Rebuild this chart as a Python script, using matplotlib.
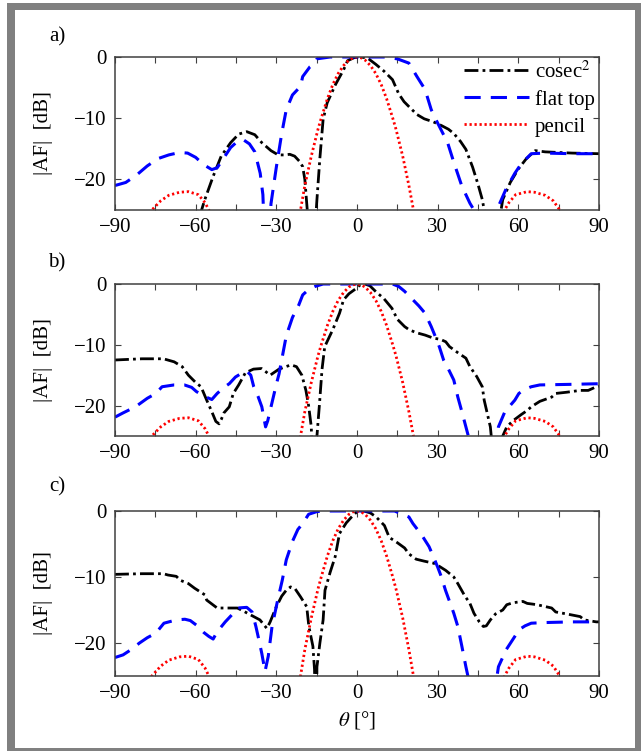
import matplotlib
matplotlib.use('Agg')
import matplotlib.pyplot as plt
from matplotlib.patches import Rectangle
from matplotlib.ticker import MultipleLocator

plt.rcParams['font.family'] = ['Liberation Serif', 'DejaVu Serif']
plt.rcParams['mathtext.fontset'] = 'stix'

# pencil beam (same in every case)
theta_pencil = [-90, -80, -77, -76.3, -73, -70, -66, -62.7, -59, -56.5, -55.1, -53, -40,
                -23, -21, -19.4, -17, -14.5, -13.3, -11, -9, -7, -5, -3, -1.5, 0,
                1.5, 3, 5, 7, 9, 11, 13.3, 14.5, 17, 19.3, 21, 23,
                40, 53, 54.9, 56.5, 59, 63.3, 66, 70, 73, 75.4, 77, 80, 90]
af_pencil = [-40, -30, -26, -25, -23.5, -22.6, -22.1, -22, -22.5, -23.8, -25, -28, -40,
             -30, -25, -21, -16.2, -11.8, -10, -6.8, -4.5, -2.7, -1.4, -0.5, -0.13, 0,
             -0.13, -0.5, -1.4, -2.7, -4.5, -6.8, -10, -11.8, -16.2, -21, -25, -30,
             -40, -28, -25, -23.8, -22.5, -22, -22.1, -22.6, -23.5, -25, -26, -30, -40]

# a) cosec^2 and flat top
theta_cosec_a = [-90, -70, -60, -57.8, -56.6, -53.5, -50.5, -47, -44, -41, -38, -35.4, -32,
                 -29.3, -27, -25, -23.2, -21.5, -20.2, -19.4, -18.5, -17.3, -16.2, -15.6,
                 -14.9, -13.8, -12.6, -11.1, -8, -5, -3.5, -1, 1.5, 4, 7, 10, 13.2, 15.5,
                 17.5, 19.3, 22.3, 25, 28.4, 31.4, 34, 36, 38.5, 40.5, 43, 45, 46.6, 47.5,
                 50, 53.4, 54.2, 57, 60, 63, 66.3, 70, 80, 90]
af_cosec_a = [-40, -35, -28, -25, -23.3, -19.5, -16.2, -14, -12.6, -12.2, -12.7, -14, -15.3,
              -16, -16, -15.9, -16.2, -17, -17.9, -20, -25, -40, -35, -28,
              -23.3, -16.5, -10.2, -7.5, -4.5, -2.1, -0.6, -0.1, 0, -0.2, -1.2, -2.3, -3.7, -6,
              -7.3, -8.1, -9.4, -10.1, -10.6, -11.2, -11.8, -12.5, -13.8, -15.1, -18, -20.8, -23.3, -25.5,
              -35, -25.5, -23.3, -20.5, -18.3, -16.6, -15.3, -15.5, -15.7, -15.8]

theta_flat_a = [-90, -86, -82, -78, -74, -70, -66, -63, -60, -57, -54, -52, -50, -47, -44,
                -42, -40, -38, -36, -35, -33.5, -32, -30, -28, -26.3, -24, -21, -20.2,
                -17.5, -15.6, -14.9, -10, 0, 10, 15, 19.3, 22.3, 25.3, 27.6, 30, 33.7, 36,
                39, 42, 43.5, 45, 48, 51, 52.6, 55.5, 58.7, 61, 64.8, 70, 80, 90]
af_flat_a = [-21, -20.5, -19.3, -17.8, -16.6, -16, -15.6, -15.7, -16.4, -17.6, -18.4, -18.1,
             -16.8, -14.8, -13.6, -13.6, -14.2, -15.5, -19, -22.5, -40, -24, -18, -12.5,
             -8.6, -6.2, -4.8, -3.2, -1.6, -1, -0.3, 0, 0, 0, -0.3, -1, -3.2, -5.3, -8.6,
             -10.8, -14, -17.2, -21.1, -23.9, -25, -30, -40, -30, -24.4, -21.5, -19, -17.5,
             -15.8, -15.7, -15.8, -15.8]

# b) cosec^2 and flat top
theta_cosec_b = [-90, -80, -72, -68, -65, -62.7, -60, -58, -56, -54, -52.5, -51.3, -50.5,
                 -49.5, -47.5, -46, -44, -41.5, -38.5, -35.5, -34, -32.3, -31, -29, -26.5,
                 -24.5, -22.5, -20.5, -19, -18, -17, -16, -15.2, -14.9, -14, -13, -12,
                 -9, -6.5, -5, -3, -0.5, 1, 3, 4.8, 7.1, 10, 13, 15, 17.7, 19.3, 22, 25.3,
                 28.4, 31, 33, 34.4, 37.5, 40.5, 42, 44.5, 46.6, 47.3, 49.6, 51, 53, 54.2,
                 55.7, 58, 61, 63.3, 64.8, 68, 72.4, 73.9, 78, 83, 86, 89, 90]
af_cosec_b = [-12.5, -12.3, -12.3, -12.8, -13.6, -15, -16.2, -16.9, -19, -21, -22.6, -23,
              -22.3, -21.2, -20.2, -18, -16.6, -14.6, -14, -13.9, -14.4, -15, -14.6, -14,
              -13.6, -13.3, -13.6, -15, -17.5, -20, -23.5, -40, -30, -25, -20, -14, -10.3,
              -7.5, -4.8, -2.6, -1.6, -0.8, -0.2, 0, -0.3, -1.3, -2.4, -4, -5.8, -7, -7.5,
              -8, -8.4, -8.9, -9.1, -9.5, -10.3, -11.3, -12.2, -13.6, -15.2, -16.9, -19.1,
              -23.5, -30, -30, -25, -23.5, -22.5, -21.5, -20.8, -20.2, -19.3, -18.6, -18,
              -17.8, -17.5, -17.5, -16.9, -16.8]

theta_flat_b = [-90, -87, -82.4, -78, -74.8, -72.5, -68, -64.2, -61.5, -59.7, -56.6, -54,
                -52, -49.5, -47.5, -45.2, -43, -41, -39.5, -38.4, -36.8, -35.4, -34, -33.2,
                -32.3, -30, -29, -27.8, -26.3, -24, -21.7, -20.2, -18, -15.6, -12.6, 0,
                13.2, 15.5, 17.7, 20.8, 23, 25.3, 27.6, 29, 30.6, 32.2, 34, 36, 37.5, 39,
                40.5, 42, 45, 48, 51, 52.6, 55, 58.7, 60.2, 62.5, 64.8, 68, 80, 90]
af_flat_b = [-21.9, -21.2, -20.2, -18.8, -18, -16.9, -16.6, -16.6, -17, -17.7, -18.5, -19,
             -18, -17, -16.4, -15.3, -14.7, -14.3, -15, -16.9, -18.5, -20.2, -23.5, -22.5,
             -20.8, -16.5, -14.8, -12, -8.5, -5.5, -3.5, -1.8, -0.9, -0.4, 0, 0,
             0, -0.4, -1.2, -2.6, -3.6, -4.8, -7, -8.5, -10.3, -12.5, -14, -15.8, -18.6, -21,
             -23.5, -26, -35, -40, -30, -23.5, -21, -19.1, -18, -17.3, -16.9, -16.6, -16.5, -16.4]

# c) cosec^2 and flat top
theta_cosec_c = [-90, -80, -72, -70.3, -67.2, -65.7, -62.7, -60.4, -56.6, -55.9, -52,
                 -50.5, -44.5, -43, -38.4, -36.1, -33.5, -32.3, -30, -28, -26.3, -24.7,
                 -23, -21, -18.7, -17.9, -16.4, -15.8, -15.3, -14.9, -13.8, -12.6, -11.9,
                 -10, -8.1, -6.5, -4, -2, 0, 2.6, 5, 7.1, 10.2, 12, 15, 17.7, 19.3, 22, 25,
                 28.4, 29.9, 33, 36, 37.5, 40, 42, 43.5, 45.5, 47, 48.1, 49.6, 51.5, 54.2,
                 55.7, 58, 61.7, 63.3, 67, 72.4, 73.9, 78, 83, 84.5, 89, 90]
af_cosec_c = [-9.6, -9.5, -9.5, -9.7, -9.9, -10.5, -11, -11.7, -12.7, -13.5, -14.7,
              -14.7, -14.7, -15, -16, -16.5, -17.8, -16.8, -14.5, -12.9, -12, -11.5,
              -11.8, -13, -14.5, -17.5, -20.5, -24, -35, -23.6, -20, -16.5, -12,
              -9.3, -6.9, -3.4, -1.8, -0.9, -0.1, 0, -0.3, -0.9, -2.2, -4, -4.8, -5.6, -6.5,
              -7.3, -7.6, -7.9, -8.2, -9, -10, -11, -12.8, -14, -15.5, -16.8, -17.5, -17.4,
              -16.5, -15.6, -15, -14.2, -13.9, -13.7, -14, -14.2, -14.7, -15.3, -15.6, -16,
              -16.5, -16.8, -16.8]

theta_flat_c = [-90, -87, -84, -80.9, -78, -74.8, -71.8, -67.2, -64, -62, -59.7, -57,
                -55.1, -53.5, -52, -49, -46, -44.5, -41, -39, -37.6, -36.5, -35.4, -34.2,
                -33, -31.6, -29.5, -27.8, -26.3, -24, -22, -20.2, -18, -15, -13, 14, 16.2,
                19.3, 20.8, 24, 26.8, 28.4, 30, 31.4, 32.9, 34.5, 36, 37.5, 39, 40.5, 41.5,
                44, 48, 51, 52.6, 55.5, 58.7, 60.2, 62.5, 64.8, 70, 80, 90]
af_flat_c = [-22.2, -21.8, -21, -20, -19.2, -18.5, -17, -16.5, -16.4, -16.6, -17.3, -18.4,
             -19, -19.4, -18.3, -16.8, -15.5, -14.7, -14.6, -15.3, -17.5, -19.5, -21.6, -24.3,
             -22, -17.5, -13.5, -10.5, -7.4, -4.6, -2.8, -1.9, -0.5, -0.1, 0, 0, -0.4,
             -0.9, -1.9, -3.6, -5.4, -6.9, -8.5, -10, -12, -13.8, -15.5, -17.5, -20.5, -23.6, -25.5,
             -32, -40, -28, -23.6, -21, -19, -18, -17.4, -17, -16.9, -16.8, -16.8]

panel_tags = ['a)', 'b)', 'c)']
cosec_curves = [(theta_cosec_a, af_cosec_a), (theta_cosec_b, af_cosec_b), (theta_cosec_c, af_cosec_c)]
flat_curves = [(theta_flat_a, af_flat_a), (theta_flat_b, af_flat_b), (theta_flat_c, af_flat_c)]

W, H = 641, 751
fig = plt.figure(figsize=(W / 100, H / 100), dpi=100)

# grey frame around the whole figure
fig.add_artist(Rectangle((7 / W, 0), 1 - 7 / W, 1 - 3 / H, transform=fig.transFigure,
                         facecolor='#808080', edgecolor='none', zorder=-10))
fig.add_artist(Rectangle((15 / W, 3 / H), 620 / W, 1 - 13 / H, transform=fig.transFigure,
                         facecolor='white', edgecolor='none', zorder=-9))

# axes boxes in pixels: (top, bottom)
boxes = [(57, 210), (284, 436), (511, 676)]
tag_y = [37, 263, 487]
left, right = 115, 599

for i, (top, bottom) in enumerate(boxes):
    ax = fig.add_axes([left / W, 1 - bottom / H, (right - left) / W, (bottom - top) / H])
    th, af = cosec_curves[i]
    ax.plot(th, af, color='k', lw=2.0, dashes=(5, 1.5, 1, 1.5), label='cosec$^{2}$')
    th, af = flat_curves[i]
    ax.plot(th, af, color='#0000ff', lw=2.2, dashes=(5.3, 3.3), label='flat top')
    ax.plot(theta_pencil, af_pencil, color='#ff0000', lw=2.0, dashes=(0.8, 1.0), label='pencil')

    ax.set_xlim(-90, 90)
    ax.set_ylim(-25, 0)
    ax.xaxis.set_major_locator(MultipleLocator(30))
    ax.xaxis.set_minor_locator(MultipleLocator(15))
    ax.set_yticks([-20, -10, 0])
    ax.tick_params(which='both', direction='in', top=True, right=True, length=4,
                   width=0.8, color='#404040', labelsize=15, pad=6)
    for sp in ax.spines.values():
        sp.set_color('#404040')
        sp.set_linewidth(1.1)
    ax.set_ylabel('|AF|  [dB]', fontsize=15)
    ax.yaxis.set_label_coords(-0.128, 0.5)

    fig.text(57 / W, 1 - tag_y[i] / H, panel_tags[i], fontsize=15, ha='center', va='center')

    if i == 0:
        ax.legend(loc='upper right', bbox_to_anchor=(1.0, 1.0), frameon=False, fontsize=15,
                  handlelength=3.1, handletextpad=0.3, labelspacing=0.35, borderaxespad=0.1,
                  borderpad=0.1)
    if i == 2:
        ax.set_xlabel(r'$\theta$ [°]', fontsize=15, labelpad=4)

fig.savefig('out.png', dpi=100)
